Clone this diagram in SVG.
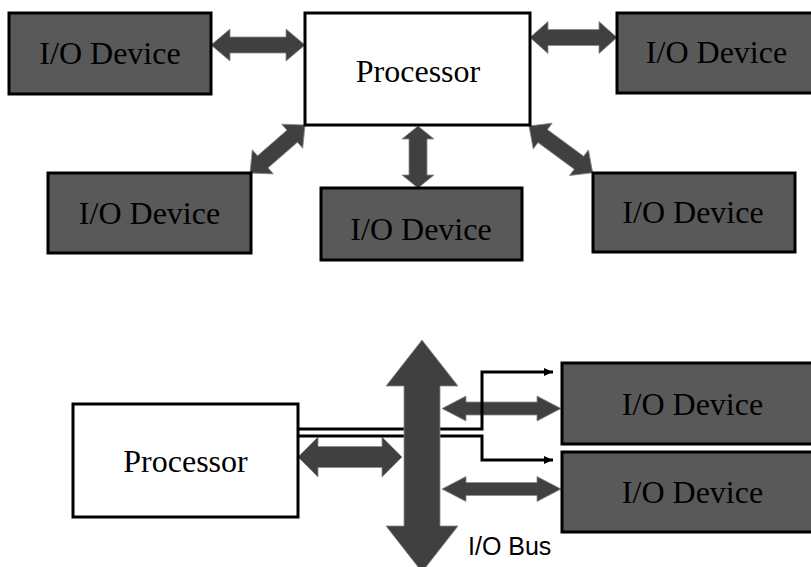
<svg xmlns="http://www.w3.org/2000/svg" width="811" height="567" viewBox="0 0 811 567">
<defs>
<style>
.dev{fill:#595959;stroke:#000;stroke-width:3}
.proc{fill:#fff;stroke:#000;stroke-width:3}
.lbl{font-family:"Liberation Serif","Times New Roman",serif;font-size:32px;fill:#000;text-anchor:middle}
.bus{font-family:"Liberation Sans",Arial,sans-serif;font-size:25px;fill:#000}
.arr{fill:#404040;stroke:#8a8a8a;stroke-width:0.8;stroke-linejoin:miter}
.ctl{fill:none;stroke:#000;stroke-width:3}
</style>
<marker id="ah" markerUnits="userSpaceOnUse" markerWidth="9" markerHeight="8" refX="9" refY="4" orient="auto">
<path d="M0,0 L9,4 L0,8 z" fill="#000"/>
</marker>
</defs>
<rect width="811" height="567" fill="#fff"/>

<g id="connectors">
<polygon class="arr" points="211,45 230,29 230,37 286,37 286,29 305,45 286,61 286,53 230,53 230,61"/>
<polygon class="arr" points="530,37.5 548,21.5 548,29.5 599,29.5 599,21.5 617,37.5 599,53.5 599,45.5 548,45.5 548,53.5"/>
<polygon class="arr" points="418,126 434,139 427,139 427,175 434,175 418,188 402,175 409,175 409,139 402,139"/>
<polygon class="arr" transform="translate(250,173) rotate(-41.1)" points="0,0 17,-16 17,-8 56,-8 56,-16 73,0 56,16 56,8 17,8 17,16"/>
<polygon class="arr" transform="translate(529,126) rotate(36.3)" points="0,0 17,-16 17,-8 62,-8 62,-16 79,0 62,16 62,8 17,8 17,16"/>
<polygon class="arr" points="298,457 318,437 318,446.5 382,446.5 382,437 402,457 382,477 382,467.5 318,467.5 318,477"/>
<polygon class="arr" points="442,408.5 466,396 466,402 537,402 537,396 561,408.5 537,421 537,415 466,415 466,421"/>
<polygon class="arr" points="442,489 466,476.5 466,482.5 537,482.5 537,476.5 561,489 537,501.5 537,495.5 466,495.5 466,501.5"/>
<path class="ctl" d="M298,429 H482 V372 H553" marker-end="url(#ah)"/>
<path class="ctl" d="M298,436 H482 V460 H553" marker-end="url(#ah)"/>
</g>

<g id="io-bus">
<polygon class="arr" points="422,340 458,386 440,386 440,526 458,526 422,572 386,526 404,526 404,386 386,386"/>
<text class="bus" x="468" y="555">I/O Bus</text>
</g>

<g id="device-top-left">
<rect class="dev" x="9" y="13" width="202" height="81"/>
<text class="lbl" x="110" y="64">I/O Device</text>
</g>
<g id="processor-top">
<rect class="proc" x="305" y="13" width="225" height="112"/>
<text class="lbl" x="418" y="82">Processor</text>
</g>
<g id="device-top-right">
<rect class="dev" x="617" y="13" width="200" height="80"/>
<text class="lbl" x="716.5" y="63">I/O Device</text>
</g>
<g id="device-mid-left">
<rect class="dev" x="48" y="173" width="203" height="80"/>
<text class="lbl" x="149.5" y="224">I/O Device</text>
</g>
<g id="device-mid-center">
<rect class="dev" x="321" y="188" width="201" height="72"/>
<text class="lbl" x="421" y="240">I/O Device</text>
</g>
<g id="device-mid-right">
<rect class="dev" x="593" y="173" width="202" height="79"/>
<text class="lbl" x="693" y="223">I/O Device</text>
</g>
<g id="processor-bottom">
<rect class="proc" x="73" y="404" width="225" height="113"/>
<text class="lbl" x="185.5" y="472">Processor</text>
</g>
<g id="device-bus-upper">
<rect class="dev" x="562" y="363" width="260" height="81"/>
<text class="lbl" x="692.5" y="415">I/O Device</text>
</g>
<g id="device-bus-lower">
<rect class="dev" x="562" y="452" width="260" height="80"/>
<text class="lbl" x="692.5" y="503">I/O Device</text>
</g>
</svg>
